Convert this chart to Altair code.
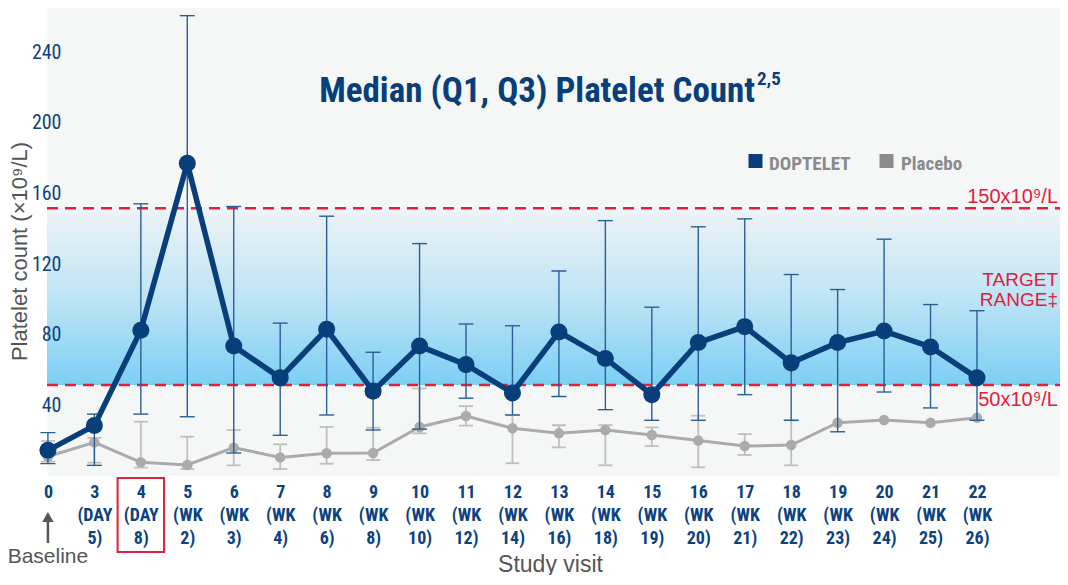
import json
import altair as alt
import pandas as pd

# ---------------- data ----------------
visits = ["0", "3", "4", "5", "6", "7", "8", "9", "10", "11", "12", "13", "14",
          "15", "16", "17", "18", "19", "20", "21", "22"]
visit_sub = ["", "(DAY|5)", "(DAY|8)", "(WK|2)", "(WK|3)", "(WK|4)", "(WK|6)", "(WK|8)",
             "(WK|10)", "(WK|12)", "(WK|14)", "(WK|16)", "(WK|18)", "(WK|19)", "(WK|20)",
             "(WK|21)", "(WK|22)", "(WK|23)", "(WK|24)", "(WK|25)", "(WK|26)"]

dop_median = [13, 27, 81, 175.5, 72, 54, 81.5, 46.5, 72, 61.5, 45.5, 80, 65, 44.5,
              74, 83, 62.5, 74, 80.5, 71.5, 54]
dop_q1 = [5.5, 4.5, 33.5, 32, 11.5, 21.5, 33, 24.5, 25, 42.5, 33, 43.5, 36, 30,
          30, 44.5, 30, 23.5, 46, 37, 30]
dop_q3 = [23, 33.5, 152.5, 259, 151, 85, 145.5, 68.5, 130, 84.5, 83.5, 114.5, 143, 94,
          139.5, 144, 112.5, 104, 132.5, 95.5, 92]

pbo_median = [9.5, 17.5, 6.2, 4.7, 14.5, 9, 11.3, 11.5, 26.2, 32.4, 25.5, 22.6, 24.5,
              21.7, 18.5, 15.4, 16, 28.6, 30.2, 28.6, 31.5]
pbo_q1 = [6.6, 6, 3.2, 2.4, 4.5, 2.4, 5.4, 7.5, 22.6, 27, 5.7, 14.7, 4.5, 15.4,
          3.4, 10.4, 4.5, None, None, None, None]
pbo_q3 = [18.3, 20, 29.2, 20.7, 24.5, 16.4, 26.2, 25.8, 48, 38, 33, 27.2, 27.3, 26,
          32.6, 22.2, 30, None, None, None, None]

target_range = [50, 150]
y_ticks = [40, 80, 120, 160, 200, 240]
highlight_visit = "4"

# ---------------- styling ----------------
W, H = 1013, 472
NARROW = "Liberation Sans Narrow, Roboto Condensed, DejaVu Sans Condensed, sans-serif"
SANS = "Liberation Sans, Arial, Helvetica, sans-serif"
DARK = "#083f7b"
DARK_ERR = "#2b5f96"
LBLUE = "#0d4280"
GRAY_LINE = "#ababab"
GRAY_ERR = "#bfbfbf"
LEG_GRAY = "#8a8a8c"
RED = "#e1203b"
TXT_GRAY = "#555555"
BG = "#f5f7f7"

labels_lines = [[v] + (sub.split("|") if sub else []) for v, sub in zip(visits, visit_sub)]
label_expr = json.dumps(labels_lines) + "[datum.value]"

df = pd.DataFrame({
    "idx": list(range(len(visits))),
    "visit": visits,
    "dop_med": dop_median, "dop_q1": dop_q1, "dop_q3": dop_q3,
    "pbo_med": pbo_median, "pbo_q1": pbo_q1, "pbo_q3": pbo_q3,
})

XS = alt.Scale(domain=[-0.02, 21.787], nice=False, zero=False)
YS = alt.Scale(domain=[-1.53, 265.6], nice=False, zero=False)

XAXIS = alt.Axis(
    title="Study visit", values=list(range(len(visits))), labelExpr=label_expr,
    domain=False, ticks=False, tickSize=0, grid=False, labelFlush=False, labelOverlap=False,
    labelAlign="center", labelBaseline="top", labelPadding=7, labelLineHeight=23,
    labelFont=NARROW, labelFontSize=18, labelFontWeight="bold", labelColor=LBLUE,
    titleFont=SANS, titleFontSize=23, titleFontWeight="normal", titleColor=TXT_GRAY,
    titleY=95, titleX=503, titleBaseline="alphabetic", zindex=1,
)
YAXIS = alt.Axis(
    title="Platelet count (×10⁹/L)", values=y_ticks,
    domain=False, ticks=False, tickSize=0, grid=False,
    labelAlign="right", labelPadding=-14, labelOffset=3,
    labelFont=NARROW, labelFontSize=20, labelFontWeight="normal", labelColor=LBLUE,
    titleFont=SANS, titleFontSize=22, titleFontWeight="normal", titleColor=TXT_GRAY,
    titleX=-16, titleY=247, titleAngle=270, titleBaseline="bottom", titleAlign="center", zindex=1,
)


def X(field):
    return alt.X(f"{field}:Q", scale=XS, axis=XAXIS)


def Y(field):
    return alt.Y(f"{field}:Q", scale=YS, axis=YAXIS)


base = alt.Chart(df)

# target band with gradient
band = alt.Chart(pd.DataFrame({"lo": [target_range[0]], "hi": [target_range[1]]})).mark_rect(
    fill=alt.LinearGradient(
        gradient="linear",
        stops=[alt.GradientStop(color="#7ccff4", offset=0),
               alt.GradientStop(color="#bfe4f5", offset=0.5),
               alt.GradientStop(color="#eef3f6", offset=1)],
        x1=0, x2=0, y1=1, y2=0,
    )
).encode(y=Y("lo"), y2="hi", x=alt.value(0), x2=alt.value(W))

rules = alt.Chart(pd.DataFrame({"level": target_range})).mark_rule(
    color=RED, strokeWidth=2.5, strokeDash=[11, 7]
).encode(y=Y("level"), x=alt.value(0), x2=alt.value(W))

# placebo
pbo_err = base.mark_rule(color=GRAY_ERR, strokeWidth=1.8).encode(x=X("idx"), y=Y("pbo_q1"), y2="pbo_q3")
pbo_caps = base.transform_fold(["pbo_q1", "pbo_q3"], as_=["k", "v"]).mark_tick(
    orient="horizontal", size=14, thickness=1.8, color=GRAY_ERR, opacity=1
).encode(x=X("idx"), y=Y("v"))
pbo_line = base.mark_line(color=GRAY_LINE, strokeWidth=3).encode(x=X("idx"), y=Y("pbo_med"))
pbo_pts = base.mark_circle(color=GRAY_LINE, size=110, opacity=1).encode(x=X("idx"), y=Y("pbo_med"))

# doptelet
dop_err = base.mark_rule(color=DARK_ERR, strokeWidth=1.4).encode(x=X("idx"), y=Y("dop_q1"), y2="dop_q3")
dop_caps = base.transform_fold(["dop_q1", "dop_q3"], as_=["k", "v"]).mark_tick(
    orient="horizontal", size=15, thickness=1.4, color=DARK_ERR, opacity=1
).encode(x=X("idx"), y=Y("v"))
dop_line = base.mark_line(color=DARK, strokeWidth=5.5).encode(x=X("idx"), y=Y("dop_med"))
dop_pts = base.mark_circle(color=DARK, size=290, opacity=1).encode(x=X("idx"), y=Y("dop_med"))

# highlight box around visit 4 label
hi = visits.index(highlight_visit)
box = alt.Chart(pd.DataFrame({"a": [hi - 0.5], "b": [hi + 0.5]})).mark_rect(
    fillOpacity=0, stroke=RED, strokeWidth=2
).encode(x=X("a"), x2="b", y=alt.value(474), y2=alt.value(548))

# baseline arrow
bl = pd.DataFrame({"idx": [0], "t": ["Baseline"]})
arrow_line = alt.Chart(bl).mark_rule(color=TXT_GRAY, strokeWidth=2.5).encode(
    x=X("idx"), y=alt.value(514), y2=alt.value(539))
arrow_head = alt.Chart(bl).mark_point(shape="triangle-up", filled=True, color=TXT_GRAY,
                                      size=130, opacity=1).encode(x=X("idx"), y=alt.value(513))
baseline_txt = alt.Chart(bl).mark_text(font=SANS, fontSize=21, color=TXT_GRAY, align="center",
                                       baseline="alphabetic").encode(
    x=X("idx"), y=alt.value(559), text="t")


def label(text, x, y, size, color, align="left", weight="normal", font=NARROW):
    return alt.Chart(pd.DataFrame({"t": [text]})).mark_text(
        font=font, fontSize=size, color=color, align=align, baseline="alphabetic", fontWeight=weight
    ).encode(x=alt.value(x), y=alt.value(y), text="t")


title = label("Median (Q1, Q3) Platelet Count", 708, 98, 35, DARK, align="right", weight="bold")
title_sup = label("2,5", 710, 81, 19, DARK, weight="bold")

leg_sq1 = alt.Chart(pd.DataFrame({"n": ["DOPTELET"]})).mark_square(size=196, color=DARK, opacity=1).encode(
    x=alt.value(708.5), y=alt.value(157))
leg_sq2 = alt.Chart(pd.DataFrame({"n": ["Placebo"]})).mark_square(size=196, color=LEG_GRAY, opacity=1).encode(
    x=alt.value(839.5), y=alt.value(157))
leg_t1 = label("DOPTELET", 722, 166, 19, LEG_GRAY, weight="bold")
leg_t2 = label("Placebo", 854, 166, 19, LEG_GRAY, weight="bold")

a150 = label("150x10⁹/L", 1011, 199, 20, RED, align="right", font=SANS)
a_t1 = label("TARGET", 1011, 282, 19, RED, align="right", font=SANS)
a_t2 = label("RANGE‡", 1011, 302, 19, RED, align="right", font=SANS)
a50 = label("50x10⁹/L", 1011, 402, 20, RED, align="right", font=SANS)

chart = alt.layer(
    band, rules, pbo_err, pbo_caps, pbo_line, pbo_pts,
    dop_err, dop_caps, dop_line, dop_pts,
    box, arrow_line, arrow_head, baseline_txt,
    title, title_sup, leg_sq1, leg_sq2, leg_t1, leg_t2,
    a150, a_t1, a_t2, a50,
).properties(
    width=W, height=H,
    autosize=alt.AutoSizeParams(type="none"),
    padding={"left": 39, "top": -4, "right": 0, "bottom": 99},
    background="white",
).configure_view(fill=BG, stroke="transparent")

chart.save("out.html", embed_options={"renderer": "svg", "actions": False})
